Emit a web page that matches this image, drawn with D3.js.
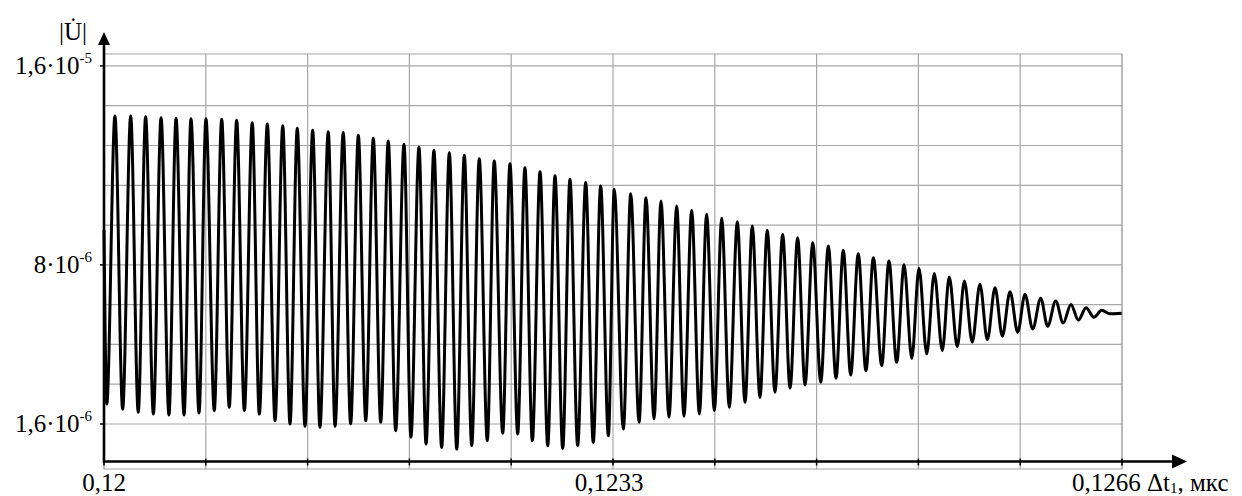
<!DOCTYPE html>
<html>
<head>
<meta charset="utf-8">
<script src="https://cdn.jsdelivr.net/npm/d3@7"></script>
<style>
  body { margin: 0; background: #fff; }
  svg text { font-family: "Liberation Serif", "Times New Roman", "DejaVu Serif", serif; fill: #000; }
</style>
</head>
<body>
<div id="chart"></div>
<script>
// Peaks of |U| (time in мкс, value in units of 1e-6)
var peakTime = [0.120071, 0.120173, 0.120270, 0.120370, 0.120467, 0.120564, 0.120661, 0.120763, 0.120860, 0.120961,
  0.121059, 0.121159, 0.121253, 0.121353, 0.121454, 0.121551, 0.121649, 0.121746, 0.121843, 0.121945,
  0.122042, 0.122139, 0.122239, 0.122336, 0.122433, 0.122530, 0.122632, 0.122729, 0.122827, 0.122924,
  0.123021, 0.123123, 0.123220, 0.123308, 0.123415, 0.123514, 0.123611, 0.123713, 0.123810, 0.123907,
  0.124005, 0.124106, 0.124203, 0.124300, 0.124400, 0.124497, 0.124595, 0.124696, 0.124793, 0.124890,
  0.124988, 0.125089, 0.125187, 0.125284, 0.125383, 0.125480, 0.125578, 0.125679, 0.125777, 0.125874,
  0.125971, 0.126073, 0.126170, 0.126269, 0.126367, 0.126468];
var peakValue = [13.99, 13.99, 13.96, 13.92, 13.90, 13.88, 13.88, 13.86, 13.82, 13.72,
  13.66, 13.59, 13.49, 13.41, 13.35, 13.32, 13.21, 13.09, 12.98, 12.85,
  12.74, 12.61, 12.51, 12.41, 12.27, 12.18, 12.07, 11.91, 11.74, 11.58,
  11.44, 11.31, 11.17, 11.04, 10.86, 10.70, 10.57, 10.37, 10.20, 10.04,
  9.87, 9.73, 9.56, 9.39, 9.23, 9.09, 8.89, 8.76, 8.59, 8.45,
  8.29, 8.16, 8.00, 7.86, 7.65, 7.51, 7.35, 7.22, 7.08, 6.92,
  6.82, 6.66, 6.55, 6.41, 6.28, 6.17];

// Troughs of |U|
var troughTime = [0.120018, 0.120121, 0.120222, 0.120320, 0.120421, 0.120519, 0.120616, 0.120715, 0.120812, 0.120910,
  0.121007, 0.121109, 0.121206, 0.121303, 0.121400, 0.121498, 0.121599, 0.121697, 0.121794, 0.121891,
  0.121990, 0.122088, 0.122189, 0.122287, 0.122384, 0.122485, 0.122585, 0.122682, 0.122777, 0.122877,
  0.122974, 0.123071, 0.123172, 0.123270, 0.123367, 0.123469, 0.123566, 0.123663, 0.123760, 0.123860,
  0.123957, 0.124054, 0.124156, 0.124253, 0.124350, 0.124448, 0.124545, 0.124647, 0.124746, 0.124841,
  0.124940, 0.125042, 0.125139, 0.125237, 0.125334, 0.125435, 0.125532, 0.125629, 0.125727, 0.125824,
  0.125924, 0.126021, 0.126118, 0.126219, 0.126317, 0.126418, 0.126522];
var troughValue = [2.40, 2.20, 2.07, 2.00, 1.96, 1.96, 2.04, 2.14, 2.27, 2.14,
  2.00, 1.73, 1.60, 1.51, 1.47, 1.51, 1.60, 1.73, 1.67, 1.33,
  1.07, 0.80, 0.66, 0.59, 0.73, 0.93, 1.23, 1.20, 0.93, 0.73,
  0.62, 0.73, 0.86, 1.13, 1.40, 1.67, 1.80, 1.87, 1.91, 2.00,
  2.14, 2.27, 2.47, 2.67, 2.88, 3.04, 3.17, 3.28, 3.44, 3.57,
  3.74, 3.95, 4.08, 4.24, 4.42, 4.55, 4.71, 4.89, 4.99, 5.13,
  5.29, 5.42, 5.53, 5.66, 5.78, 5.89, 6.03];

// First and last samples
var startPoint = [0.12, 9.40];
var endPoint = [0.126598, 6.05];

// Grid and tick labels
var xGrid = [0.12, 0.12066, 0.12132, 0.12198, 0.12264, 0.1233, 0.12396, 0.12462, 0.12528, 0.12594, 0.1266];
var xLabels = [{v: 0.12, t: "0,12"}, {v: 0.1233, t: "0,1233"}, {v: 0.1266, t: "0,1266"}];
var yGrid = [1.6, 3.2, 4.8, 6.4, 8.0, 9.6, 11.2, 12.8, 14.4, 16.0];
var yLabels = [{v: 1.6, m: "1,6·10", e: "-6"}, {v: 8.0, m: "8·10", e: "-6"}, {v: 16.0, m: "1,6·10", e: "-5"}];

var serif = '"Liberation Serif", "Times New Roman", "DejaVu Serif", serif';

var svgWidth = 1242;
var svgHeight = 496;
var margin = {top: 54, right: 120, bottom: 27, left: 104};
var plotWidth = svgWidth - margin.left - margin.right;
var plotHeight = svgHeight - margin.top - margin.bottom;

var svg = d3.select("#chart")
            .append("svg")
            .attr("width", svgWidth)
            .attr("height", svgHeight);

var chartGroup = svg.append("g")
                    .attr("transform", `translate(${margin.left}, ${margin.top})`)
                    .attr("font-family", serif);

var xScale = d3.scaleLinear().domain([0.12, 0.1266]).range([0, plotWidth]);
var yScale = d3.scaleLinear().domain([-0.21, 16.48]).range([plotHeight, 0]);

// Grid box
chartGroup.append("rect")
          .attr("x", 0).attr("y", 0)
          .attr("width", plotWidth).attr("height", plotHeight)
          .attr("fill", "none")
          .attr("stroke", "#b4b4b4")
          .attr("stroke-width", 1.2);

chartGroup.selectAll(".vgrid")
          .data(xGrid)
          .enter()
          .append("line")
          .attr("x1", d => xScale(d)).attr("x2", d => xScale(d))
          .attr("y1", 0).attr("y2", plotHeight)
          .attr("stroke", "#a8a8a8")
          .attr("stroke-width", 1.2);

chartGroup.selectAll(".hgrid")
          .data(yGrid)
          .enter()
          .append("line")
          .attr("x1", 0).attr("x2", plotWidth)
          .attr("y1", d => yScale(d)).attr("y2", d => yScale(d))
          .attr("stroke", "#a8a8a8")
          .attr("stroke-width", 1.2);

// Merge peaks and troughs into one ordered series
var series = [startPoint];
peakTime.forEach((t, i) => series.push([t, peakValue[i]]));
troughTime.forEach((t, i) => series.push([t, troughValue[i]]));
series.push(endPoint);
series.sort((a, b) => a[0] - b[0]);

var line = d3.line()
             .x(d => xScale(d[0]))
             .y(d => yScale(d[1]))
             .curve(d3.curveMonotoneX);

chartGroup.append("path")
          .datum(series)
          .attr("d", line)
          .attr("fill", "none")
          .attr("stroke", "#000")
          .attr("stroke-width", 3)
          .attr("stroke-linejoin", "round");

// Axes with arrows
var axisY = plotHeight - 7.5;

chartGroup.append("line")
          .attr("x1", 0).attr("x2", 1072)
          .attr("y1", axisY).attr("y2", axisY)
          .attr("stroke", "#000").attr("stroke-width", 2.6);
chartGroup.append("path")
          .attr("d", `M1083,${axisY} L1068,${axisY - 7} L1068,${axisY + 7} Z`)
          .attr("fill", "#000");

chartGroup.append("line")
          .attr("x1", 0).attr("x2", 0)
          .attr("y1", axisY + 1.3).attr("y2", -12)
          .attr("stroke", "#000").attr("stroke-width", 2.6);
chartGroup.append("path")
          .attr("d", "M0,-22 L-6,-9 L6,-9 Z")
          .attr("fill", "#000");

// Ticks
chartGroup.selectAll(".xtick")
          .data(xGrid)
          .enter()
          .append("line")
          .attr("x1", d => xScale(d)).attr("x2", d => xScale(d))
          .attr("y1", axisY - 3).attr("y2", axisY + 4)
          .attr("stroke", "#000").attr("stroke-width", 1.5);

chartGroup.selectAll(".ytick")
          .data(yLabels)
          .enter()
          .append("line")
          .attr("x1", -4).attr("x2", 0)
          .attr("y1", d => yScale(d.v)).attr("y2", d => yScale(d.v))
          .attr("stroke", "#000").attr("stroke-width", 1.5);

// X tick labels
chartGroup.selectAll(".xlabel")
          .data(xLabels)
          .enter()
          .append("text")
          .attr("x", (d, i) => i == 2 ? xScale(d.v) - 50 : xScale(d.v) - (i == 1 ? 4 : 0))
          .attr("y", plotHeight + 22)
          .attr("text-anchor", (d, i) => i == 2 ? "start" : "middle")
          .attr("font-family", serif)
          .attr("font-size", 25)
          .text(d => d.t);

var xTitle = chartGroup.append("text")
                       .attr("x", 1043)
                       .attr("y", plotHeight + 22)
                       .attr("font-family", serif)
                       .attr("font-size", 25);
xTitle.append("tspan").text("Δt");
xTitle.append("tspan").attr("font-size", 15).attr("dy", 2).text("1");
xTitle.append("tspan").attr("dy", -2).text(", мкс");

// Y tick labels
var yText = chartGroup.selectAll(".ylabel")
                      .data(yLabels)
                      .enter()
                      .append("text")
                      .attr("x", -12)
                      .attr("y", d => yScale(d.v) + 8)
                      .attr("text-anchor", "end")
                      .attr("font-family", serif)
                      .attr("font-size", 25);
yText.append("tspan").text(d => d.m);
yText.append("tspan").attr("font-size", 15).attr("dy", -11).text(d => d.e);

// Y title
chartGroup.append("text")
          .attr("x", -45)
          .attr("y", -14)
          .attr("font-family", serif)
          .attr("font-size", 25)
          .text("|U\u0307|");
</script>
</body>
</html>
